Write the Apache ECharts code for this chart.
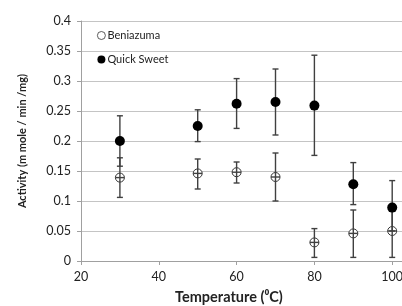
<!DOCTYPE html>
<html>
<head>
<meta charset="utf-8">
<script src="https://cdn.jsdelivr.net/npm/echarts@6/dist/echarts.min.js"></script>
<style>
  html, body { margin: 0; padding: 0; background: #fff; }
  #chart { width: 402px; height: 306px; }
</style>
</head>
<body>
<div id="chart"></div>
<script>
// data
var temps = [30, 50, 60, 70, 80, 90, 100];

var beniazuma = [0.139, 0.146, 0.148, 0.140, 0.031, 0.046, 0.050];
var beniazumaLow = [0.106, 0.120, 0.130, 0.100, 0.006, 0.006, 0.006];
var beniazumaHigh = [0.172, 0.170, 0.165, 0.180, 0.054, 0.085, 0.089];

var quickSweet = [0.200, 0.225, 0.262, 0.265, 0.259, 0.128, 0.089];
var quickSweetLow = [0.158, 0.199, 0.221, 0.210, 0.176, 0.094, 0.050];
var quickSweetHigh = [0.242, 0.252, 0.304, 0.320, 0.343, 0.164, 0.134];

var yTicks = [0, 0.05, 0.1, 0.15, 0.2, 0.25, 0.3, 0.35, 0.4];

var myChart = echarts.init(document.getElementById('chart'));

function points(ys) {
    return temps.map(function (t, i) { return [t, ys[i]]; });
}
function bars(ys, lows, highs) {
    return temps.map(function (t, i) { return [t, lows[i], highs[i], ys[i]]; });
}

// error bar drawing, cross = draw the horizontal stroke through an open marker
function errorBar(cross) {
    return function (params, api) {
        var top = api.coord([api.value(0), api.value(2)]);
        var bot = api.coord([api.value(0), api.value(1)]);
        var mid = api.coord([api.value(0), api.value(3)]);
        var x = top[0], c = 3;
        var st = { stroke: '#404040', lineWidth: 1.4 };
        var kids = [
            { type: 'line', shape: { x1: x, y1: top[1], x2: x, y2: bot[1] }, style: st },
            { type: 'line', shape: { x1: x - c, y1: top[1], x2: x + c, y2: top[1] }, style: st },
            { type: 'line', shape: { x1: x - c, y1: bot[1], x2: x + c, y2: bot[1] }, style: st }
        ];
        if (cross) {
            kids.push({ type: 'line', shape: { x1: x - 4.5, y1: mid[1], x2: x + 4.5, y2: mid[1] }, style: st });
        }
        return { type: 'group', children: kids };
    };
}

var option = {
    animation: false,
    textStyle: { fontFamily: 'Lato' },
    // the source picture is cropped on the right, so the plot runs past the edge
    grid: { left: 81, top: 21, width: 389, height: 240, outerBoundsMode: 'none', containLabel: false },
    legend: {
        data: [
            { name: 'Beniazuma', itemStyle: { color: '#fff', borderColor: '#333', borderWidth: 0.8 } },
            { name: 'Quick Sweet' }
        ],
        orient: 'vertical',
        left: 92,
        top: 25,
        itemWidth: 8,
        itemHeight: 8,
        itemGap: 13,
        textStyle: { fontSize: 11, color: '#222', fontFamily: 'Lato', padding: [0, 0, 0, -3] }
    },
    xAxis: {
        type: 'value',
        min: 20,
        max: 120,
        interval: 20,
        axisLine: { show: true, lineStyle: { color: '#a0a0a0' } },
        axisTick: { show: true, length: 4, lineStyle: { color: '#a0a0a0' } },
        axisLabel: { fontSize: 12.5, color: '#222', margin: 9 },
        splitLine: { show: false }
    },
    yAxis: {
        type: 'value',
        min: 0,
        max: 0.4,
        interval: 0.05,
        name: 'Activity (m mole / min /mg)',
        nameLocation: 'middle',
        nameGap: 53,
        nameTextStyle: { fontSize: 11, fontWeight: 'bold', color: '#222' },
        axisLine: { show: true, lineStyle: { color: '#a0a0a0' } },
        axisTick: { show: true, length: 4, lineStyle: { color: '#a0a0a0' } },
        axisLabel: {
            fontSize: 12.5, color: '#222', margin: 10,
            formatter: function (v) {
                var t = yTicks.filter(function (k) { return Math.abs(k - v) < 1e-9; });
                return t.length ? String(t[0]) : '';
            }
        },
        splitLine: { show: true, lineStyle: { color: '#c4c4c4', width: 1.2 } }
    },
    graphic: [{
        type: 'text',
        left: 175,
        top: 290,
        style: { text: 'Temperature (\u2070C)', fontSize: 14.5, fontWeight: 'bold', fill: '#222', fontFamily: 'Lato' }
    }],
    series: [
        {
            name: 'Beniazuma',
            type: 'scatter',
            symbol: 'circle',
            symbolSize: 9,
            itemStyle: { color: '#fff', borderColor: '#333', borderWidth: 1, opacity: 1 },
            data: points(beniazuma),
            z: 2
        },
        {
            name: 'Quick Sweet',
            type: 'scatter',
            symbol: 'circle',
            symbolSize: 10,
            itemStyle: { color: '#000', opacity: 1 },
            data: points(quickSweet),
            z: 4
        },
        {
            type: 'custom',
            renderItem: errorBar(true),
            encode: { x: 0, y: [1, 2] },
            data: bars(beniazuma, beniazumaLow, beniazumaHigh),
            z: 3
        },
        {
            type: 'custom',
            renderItem: errorBar(false),
            encode: { x: 0, y: [1, 2] },
            data: bars(quickSweet, quickSweetLow, quickSweetHigh),
            z: 3
        }
    ]
};

myChart.setOption(option);
</script>
</body>
</html>
